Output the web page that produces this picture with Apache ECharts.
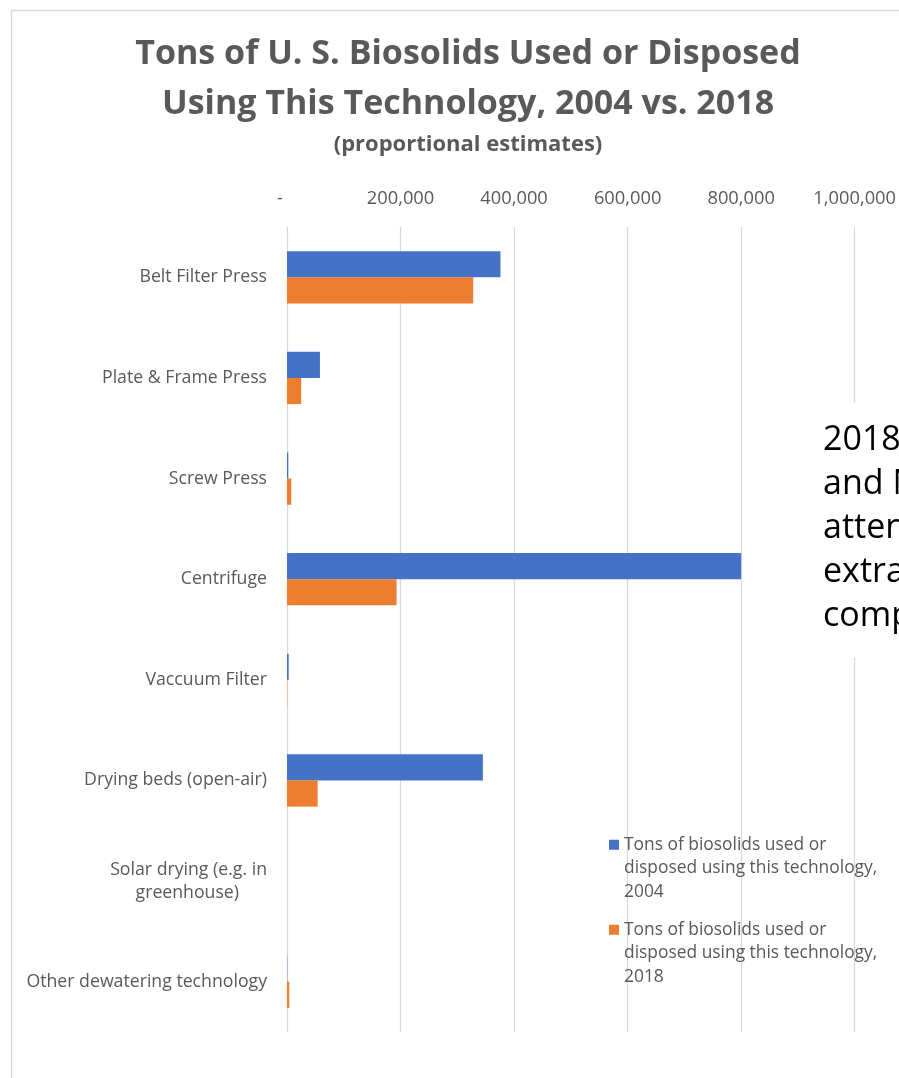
<!DOCTYPE html>
<html>
<head>
<meta charset="utf-8">
<title>Tons of U. S. Biosolids Used or Disposed Using This Technology, 2004 vs. 2018</title>
<script src="https://cdn.jsdelivr.net/npm/echarts@6/dist/echarts.min.js"></script>
<style>
  html, body { margin: 0; padding: 0; background: #ffffff; }
  #chart { width: 899px; height: 1078px; }
</style>
</head>
<body>
<div id="chart"></div>
<script>
// Dewatering technologies (top to bottom)
const categories = [
  'Belt Filter Press',
  'Plate & Frame Press',
  'Screw Press',
  'Centrifuge',
  'Vaccuum Filter',
  'Drying beds (open-air)',
  'Solar drying (e.g. in\ngreenhouse)',
  'Other dewatering technology'
];

// Tons of biosolids per technology
const tons2004 = [376000, 58000, 2300, 800000, 3000, 345000, 0, 400];
const tons2018 = [328000, 25000, 7500, 193000, 400, 54000, 0, 4000];

const seriesNames = [
  'Tons of biosolids used or disposed using this technology, 2004',
  'Tons of biosolids used or disposed using this technology, 2018'
];

// Value axis ticks
const axisMin = 0;
const axisMax = 1000000;
const axisStep = 200000;

// Partly visible note box at the right edge
const noteLines = ['2018', 'and N', 'atten', 'extra', 'comp'];

const FONT = 'Open Sans';
const GREY = '#595959';
const BLUE = '#4472C4';
const ORANGE = '#ED7D31';

const chart = echarts.init(document.getElementById('chart'), null, { renderer: 'canvas' });

function legendLabel(name) {
  return name.replace(' disposed', '\ndisposed').replace(', 20', ',\n20');
}

// Square marker sitting at the top of a tall (invisible) box, so it lines up
// with the first line of a three-line legend label.
const LEGEND_LINE = 23.5;
const legendIcon = 'path://M0,0L10,0L10,10L0,10Z M0,57L10,57';

const option = {
  backgroundColor: '#ffffff',
  animation: false,
  title: {
    text: 'Tons of U. S. Biosolids Used or Disposed\nUsing This Technology, 2004 vs. 2018',
    subtext: '(proportional estimates)',
    left: 463,
    top: 24,
    textAlign: 'center',
    itemGap: 3,
    textStyle: {
      fontFamily: FONT,
      fontWeight: 'bold',
      fontSize: 34,
      lineHeight: 50,
      color: GREY
    },
    subtextStyle: {
      fontFamily: FONT,
      fontWeight: 'bold',
      fontSize: 22,
      lineHeight: 26,
      color: GREY
    }
  },
  legend: {
    data: seriesNames,
    orient: 'vertical',
    left: 609,
    top: 833,
    padding: 0,
    itemGap: 14.5,
    itemWidth: 10,
    itemHeight: 57,
    icon: legendIcon,
    selectedMode: false,
    formatter: legendLabel,
    textStyle: {
      fontFamily: FONT,
      fontSize: 17.4,
      color: GREY,
      lineHeight: LEGEND_LINE
    }
  },
  grid: {
    left: 287,
    right: 36,
    top: 227,
    bottom: 46,
    containLabel: false
  },
  xAxis: {
    type: 'value',
    position: 'top',
    min: axisMin,
    max: axisMax,
    interval: axisStep,
    axisLine: { show: false },
    axisTick: { show: false },
    splitLine: { show: true, lineStyle: { color: '#d9d9d9', width: 1.3 } },
    axisLabel: {
      margin: 19,
      fontFamily: FONT,
      fontSize: 18.3,
      color: GREY,
      formatter: function (v) {
        return v === 0 ? '-   ' : v.toLocaleString('en-US');
      }
    }
  },
  yAxis: {
    type: 'category',
    inverse: true,
    data: categories,
    axisLine: { show: false },
    axisTick: { show: false },
    axisLabel: {
      margin: 20,
      fontFamily: FONT,
      fontSize: 17.7,
      color: GREY,
      lineHeight: 23,
      formatter: function (v) {
        if (v.indexOf('\n') < 0) return v;
        const parts = v.split('\n');
        return '{a|' + parts[0] + '}\n{b|' + parts[1] + '}';
      },
      rich: {
        a: { fontFamily: FONT, fontSize: 17.7, color: GREY, lineHeight: 23 },
        b: { fontFamily: FONT, fontSize: 17.7, color: GREY, lineHeight: 23, padding: [0, 28, 0, 0] }
      }
    }
  },
  series: [
    {
      name: seriesNames[0],
      type: 'bar',
      data: tons2004,
      barGap: '0%',
      barCategoryGap: '48%',
      itemStyle: { color: BLUE }
    },
    {
      name: seriesNames[1],
      type: 'bar',
      data: tons2018,
      barGap: '0%',
      barCategoryGap: '48%',
      itemStyle: { color: ORANGE }
    }
  ],
  graphic: [
    // outer chart frame
    {
      type: 'rect',
      z: 100,
      silent: true,
      shape: { x: 11.5, y: 10.5, width: 1000, height: 1200 },
      style: { fill: 'none', stroke: '#d9d9d9', lineWidth: 1.5 }
    },
    // note box overlapping the plot
    {
      type: 'rect',
      z: 100,
      silent: true,
      shape: { x: 800, y: 403, width: 120, height: 254 },
      style: { fill: '#ffffff' }
    },
    {
      type: 'text',
      z: 101,
      silent: true,
      x: 823,
      y: 418,
      style: {
        text: noteLines.join('\n'),
        fontFamily: FONT,
        fontSize: 34,
        lineHeight: 44,
        fill: '#000000',
        align: 'left',
        verticalAlign: 'top'
      }
    }
  ]
};

chart.setOption(option);
</script>
</body>
</html>
